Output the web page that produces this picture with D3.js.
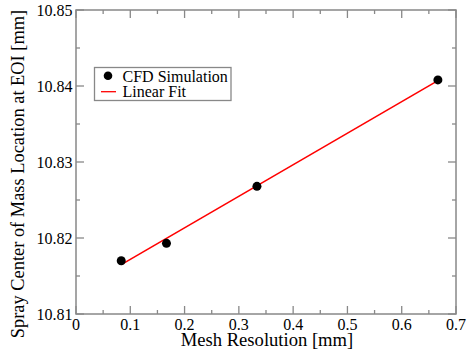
<!DOCTYPE html>
<html>
<head>
<meta charset="utf-8">
<script src="https://cdn.jsdelivr.net/npm/d3@7"></script>
<style>
  body { margin: 0; background: #fff; }
  svg text { font-family: 'Liberation Serif', 'Times New Roman', Times, 'DejaVu Serif', serif; fill: #000; }
</style>
</head>
<body>
<div id="chart"></div>
<script>
// simulation points
var meshRes = [1/12, 1/6, 1/3, 2/3];
var comLoc = [10.8170, 10.8193, 10.8268, 10.8408];
// linear fit end points
var fitX = [1/12, 2/3];
var fitY = [10.8165, 10.8407];
var xTicks = [0, 0.1, 0.2, 0.3, 0.4, 0.5, 0.6, 0.7];
var yTicks = [10.81, 10.82, 10.83, 10.84, 10.85];

var W = 468, H = 356,
    margin = { top: 10, right: 12, bottom: 42, left: 76 },
    width = W - margin.left - margin.right,
    height = H - margin.top - margin.bottom,
    axisColor = '#888',
    serif = "'Liberation Serif', 'Times New Roman', Times, serif";

var svg = d3.select('#chart').append('svg')
  .attr('width', W)
  .attr('height', H)
  .attr('font-family', serif);

var g = svg.append('g')
  .attr('transform', 'translate(' + margin.left + ',' + margin.top + ')');

var x = d3.scaleLinear().domain([0, 0.7]).range([0, width]);
var y = d3.scaleLinear().domain([10.81, 10.85]).range([height, 0]);

var xMinor = d3.range(0.05, 0.7, 0.1);
var yMinor = d3.range(10.815, 10.85, 0.01);

// tick marks on all four sides, pointing inward
var tickG = g.append('g').attr('stroke', axisColor).attr('stroke-width', 1.3);
function drawX(vals, len) {
  vals.forEach(function (v) {
    tickG.append('line').attr('x1', x(v)).attr('x2', x(v)).attr('y1', height).attr('y2', height - len);
    tickG.append('line').attr('x1', x(v)).attr('x2', x(v)).attr('y1', 0).attr('y2', len);
  });
}
function drawY(vals, len) {
  vals.forEach(function (v) {
    tickG.append('line').attr('y1', y(v)).attr('y2', y(v)).attr('x1', 0).attr('x2', len);
    tickG.append('line').attr('y1', y(v)).attr('y2', y(v)).attr('x1', width).attr('x2', width - len);
  });
}
drawX(xTicks, 8);
drawX(xMinor, 4);
drawY(yTicks, 8);
drawY(yMinor, 4);

g.append('rect')
  .attr('width', width)
  .attr('height', height)
  .attr('fill', 'none')
  .attr('stroke', axisColor)
  .attr('stroke-width', 1.5);

// tick labels
g.selectAll('.xlab')
  .data(xTicks)
  .enter().append('text')
    .attr('class', 'xlab')
    .attr('x', function (d) { return x(d); })
    .attr('y', height + 15.5)
    .attr('text-anchor', 'middle')
    .style('font-size', '16px')
    .text(function (d) { return d === 0 ? '0' : d.toFixed(1); });

g.selectAll('.ylab')
  .data(yTicks)
  .enter().append('text')
    .attr('class', 'ylab')
    .attr('x', -3.5)
    .attr('y', function (d) { return y(d) + 5.5; })
    .attr('text-anchor', 'end')
    .style('font-size', '16px')
    .text(function (d) { return d.toFixed(2); });

// axis titles
svg.append('text')
  .attr('x', margin.left + width / 2 + 1)
  .attr('y', 346)
  .attr('text-anchor', 'middle')
  .style('font-size', '18.6px')
  .text('Mesh Resolution [mm]');

svg.append('text')
  .attr('transform', 'translate(24,174) rotate(-90)')
  .attr('text-anchor', 'middle')
  .style('font-size', '18.4px')
  .text('Spray Center of Mass Location at EOI [mm]');

// fit line
var fit = fitX.map(function (d, i) { return [d, fitY[i]]; });
g.append('path')
  .datum(fit)
  .attr('fill', 'none')
  .attr('stroke', '#ff0000')
  .attr('stroke-width', 1.6)
  .attr('d', d3.line().x(function (d) { return x(d[0]); }).y(function (d) { return y(d[1]); }));

// simulation points
g.selectAll('.pt')
  .data(meshRes)
  .enter().append('circle')
    .attr('class', 'pt')
    .attr('cx', function (d) { return x(d); })
    .attr('cy', function (d, i) { return y(comLoc[i]); })
    .attr('r', 4.5)
    .attr('fill', '#000');

// legend
var leg = svg.append('g');
leg.append('rect')
  .attr('x', 94.5).attr('y', 67.5)
  .attr('width', 136.5).attr('height', 33)
  .attr('fill', '#fff')
  .attr('stroke', axisColor)
  .attr('stroke-width', 1.3);
leg.append('circle')
  .attr('cx', 108).attr('cy', 75.7).attr('r', 4.3).attr('fill', '#000');
leg.append('text')
  .attr('x', 122.5).attr('y', 81.5)
  .style('font-size', '16px')
  .text('CFD Simulation');
leg.append('line')
  .attr('x1', 101).attr('x2', 116).attr('y1', 91.7).attr('y2', 91.7)
  .attr('stroke', '#ff0000').attr('stroke-width', 1.3);
leg.append('text')
  .attr('x', 122.5).attr('y', 96.5)
  .style('font-size', '16px')
  .text('Linear Fit');
</script>
</body>
</html>
